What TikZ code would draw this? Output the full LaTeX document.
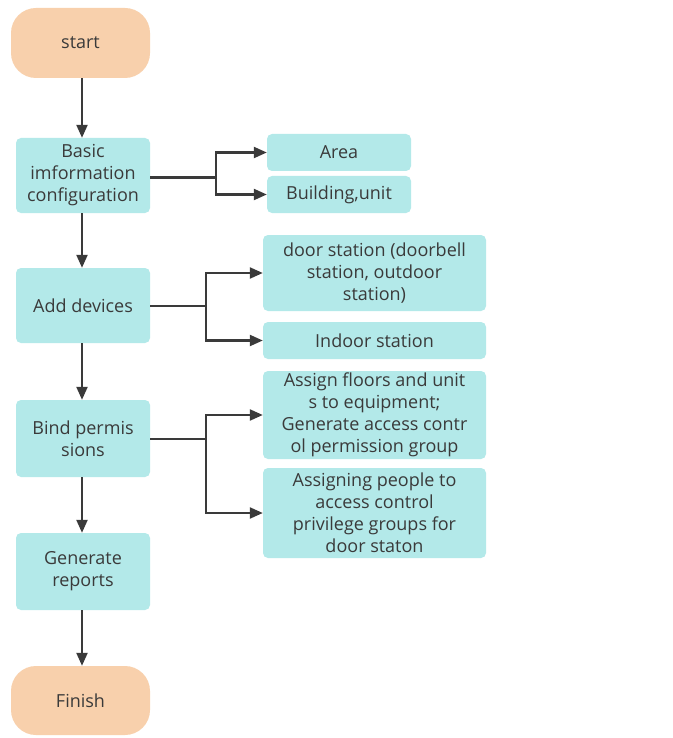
\documentclass[tikz,border=0pt]{standalone}
\usepackage{fontspec}
\setmainfont{Open Sans}
\usetikzlibrary{arrows.meta}
\definecolor{termfill}{HTML}{F8D0AC}
\definecolor{boxfill}{HTML}{B3E9E9}
\definecolor{ink}{HTML}{3A3A3A}
\begin{document}
\begin{tikzpicture}[x=1pt,y=1pt,
  base/.style={draw=none,align=center,text=ink,font=\fontsize{18}{22}\selectfont,inner sep=0pt},
  term/.style={base,fill=termfill,rounded corners=25pt,minimum width=139pt},
  proc/.style={base,fill=boxfill,rounded corners=5pt,minimum width=134pt},
  side/.style={base,fill=boxfill,rounded corners=5pt},
  conn/.style={draw=ink,line width=2.2pt},
  arr/.style={conn,-{Triangle[length=13pt,width=11pt]}}]
\useasboundingbox (0,0) rectangle (672,-738);
\fill[white] (0,0) rectangle (672,-738);
% main column
\node[term,minimum height=70pt] (start) at (80.5,-43) {start};
\node[proc,minimum height=75pt] (basic) at (83,-175.5) {Basic\\imformation\\configuration};
\node[proc,minimum height=75pt] (add) at (83,-305.5) {Add devices};
\node[proc,minimum height=77pt] (bind) at (83,-438.5) {Bind permis\\sions};
\node[proc,minimum height=77pt] (gen) at (83,-571.5) {Generate\\reports};
\node[term,minimum height=69pt] (finish) at (80.5,-700.5) {Finish};
% side boxes
\node[side,minimum width=144pt,minimum height=37pt] (area) at (339,-152.5) {Area};
\node[side,minimum width=144pt,minimum height=37pt] (bldg) at (339,-194.5) {Building,unit};
\node[side,minimum width=223pt,minimum height=76pt] (door) at (374.5,-273) {door station (doorbell\\station, outdoor\\station)};
\node[side,minimum width=223pt,minimum height=37pt] (indoor) at (374.5,-340.5) {Indoor station};
\node[side,minimum width=223pt,minimum height=88pt] (asg1) at (374.5,-415) {Assign floors and unit\\s to equipment;\\Generate access contr\\ol permission group};
\node[side,minimum width=223pt,minimum height=90pt] (asg2) at (374.5,-513) {Assigning people to\\access control\\privilege groups for\\door staton};
% main arrows
\draw[arr] (start.south -| 82,0) -- (basic.north -| 82,0);
\draw[arr] (basic.south -| 82,0) -- (add.north -| 82,0);
\draw[arr] (add.south -| 82,0) -- (bind.north -| 82,0);
\draw[arr] (bind.south -| 82,0) -- (gen.north -| 82,0);
\draw[arr] (gen.south -| 82,0) -- (finish.north -| 82,0);
% branches
\coordinate (j1) at (216,-177.5);
\draw[conn] (basic.east |- j1) -- (j1);
\draw[arr] (j1) |- (area.west);
\draw[arr] (j1) |- (bldg.west);
\coordinate (j2) at (206,-306);
\draw[conn] (add.east |- j2) -- (j2);
\draw[arr] (j2) |- (door.west);
\draw[arr] (j2) |- (indoor.west);
\coordinate (j3) at (206,-439);
\draw[conn] (bind.east |- j3) -- (j3);
\draw[arr] (j3) |- (asg1.west);
\draw[arr] (j3) |- (asg2.west);
\end{tikzpicture}
\end{document}
